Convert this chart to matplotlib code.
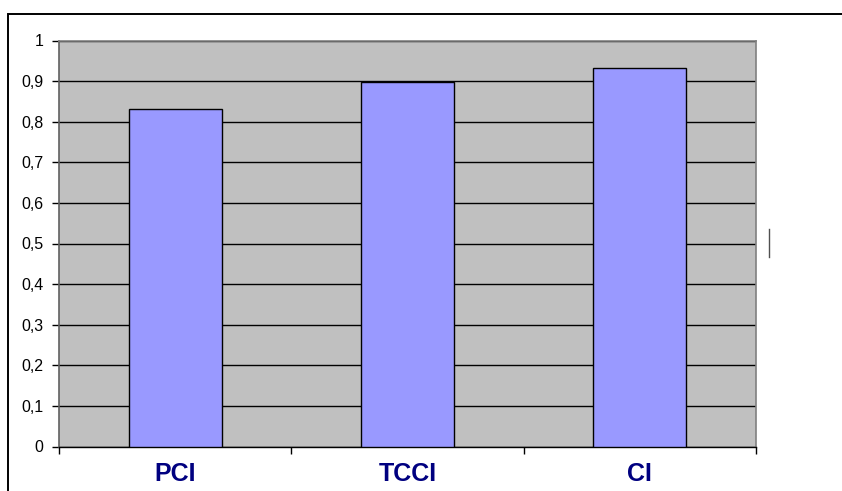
import matplotlib.pyplot as plt
import matplotlib.patches as mpatches
from matplotlib.lines import Line2D
import numpy as np

# Dữ liệu
categories = ['PCI', 'TCCI', 'CI']
values = [0.832, 0.897, 0.932]
y_ticks = [0, 0.1, 0.2, 0.3, 0.4, 0.5, 0.6, 0.7, 0.8, 0.9, 1.0]
y_tick_labels = ['0', '0,1', '0,2', '0,3', '0,4', '0,5', '0,6', '0,7', '0,8', '0,9', '1']

plt.rcParams['font.family'] = ['Liberation Sans', 'DejaVu Sans']

W, H = 842, 491
fig = plt.figure(figsize=(W / 100, H / 100), dpi=100)
fig.patch.set_facecolor('white')

# Khung ngoài
frame = mpatches.Rectangle((8 / W, -0.1), 1.0, 1 - 14 / H + 0.1, transform=fig.transFigure,
                           fill=False, edgecolor='black', linewidth=1.4)
fig.patches.append(frame)

ax = fig.add_axes([59 / W, 1 - 446.5 / H, (756 - 59) / W, (446.5 - 40.5) / H])
ax.set_facecolor('#C0C0C0')

x = np.arange(len(categories))
ax.bar(x, values, width=0.4, color='#9999FF', edgecolor='black', linewidth=1.0, zorder=3)

ax.set_xlim(-0.5, len(categories) - 0.5)
ax.set_ylim(0, 1)

ax.set_yticks(y_ticks)
ax.set_yticklabels(y_tick_labels, fontsize=11.5)
ax.yaxis.grid(True, color='black', linewidth=1.0, zorder=1)
ax.set_axisbelow(True)

# Vạch chia trục x ở ranh giới, nhãn ở giữa
ax.set_xticks(np.arange(-0.5, len(categories), 1.0))
ax.set_xticklabels([])
ax.set_xticks(x, minor=True)
ax.set_xticklabels(categories, minor=True, fontsize=18, fontweight='bold', color='#000080')
ax.tick_params(axis='x', which='minor', length=0, pad=11)
ax.tick_params(axis='x', which='major', length=5, width=1, color='black')
ax.tick_params(axis='y', length=5, width=1, color='black', pad=6)

for side in ['top', 'right']:
    ax.spines[side].set_color('#808080')
    ax.spines[side].set_linewidth(1.2)
ax.spines['left'].set_color('#606060')
ax.spines['left'].set_linewidth(1.2)
ax.spines['bottom'].set_color('black')
ax.spines['bottom'].set_linewidth(1.0)

# Vạch nhỏ lạc ở bên phải
fig.add_artist(Line2D([769 / W, 769 / W], [1 - 229 / H, 1 - 257 / H], transform=fig.transFigure,
                      color='#505050', linewidth=1.0))

plt.savefig('out.png', dpi=100)
